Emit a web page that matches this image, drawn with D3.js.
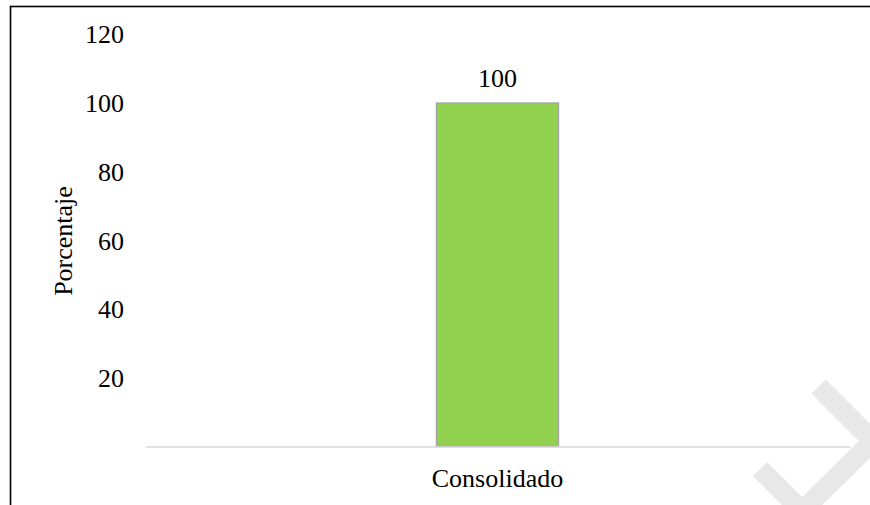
<!DOCTYPE html>
<html>
<head>
<meta charset="utf-8">
<script src="https://cdn.jsdelivr.net/npm/d3@7"></script>
<style>
  html, body { margin: 0; padding: 0; background: #fff; }
  svg { display: block; }
  text { font-family: "Liberation Serif", "Times New Roman", serif; fill: #000; }
</style>
</head>
<body>
<script>
// Chart data
const categories = ["Consolidado"];
const values = [100];
const yTicks = [20, 40, 60, 80, 100, 120];
const yTitle = "Porcentaje";

const W = 870, H = 505;
const plot = { left: 145, right: 850, top: 34.4, bottom: 446.5 };
const FONT = 26;

const svg = d3.select("body").append("svg")
  .attr("width", W).attr("height", H);

// Outer frame (top and left edges visible)
svg.append("rect")
  .attr("x", 10.5).attr("y", 6.5)
  .attr("width", 1000).attr("height", 1000)
  .attr("fill", "none").attr("stroke", "#000").attr("stroke-width", 1.6);

const x = d3.scaleBand()
  .domain(categories)
  .range([plot.left, plot.right])
  .paddingInner(0.705).paddingOuter(0.705);

const y = d3.scaleLinear()
  .domain([0, 120])
  .range([plot.bottom, plot.top]);

// Y axis: labels only
const yAxis = d3.axisLeft(y).tickValues(yTicks).tickSize(0).tickPadding(0);
const gy = svg.append("g")
  .attr("transform", `translate(124,0)`)
  .call(yAxis);
gy.select(".domain").remove();
gy.selectAll("text")
  .attr("font-size", FONT)
  .attr("font-family", "Liberation Serif, serif")
  .attr("fill", "#000")
  .attr("dy", "0.33em");

// Bars
svg.selectAll("rect.bar")
  .data(values)
  .join("rect")
  .attr("class", "bar")
  .attr("x", (d, i) => x(categories[i]))
  .attr("y", d => y(d))
  .attr("width", x.bandwidth())
  .attr("height", d => y(0) - y(d))
  .attr("fill", "#92D050")
  .attr("stroke", "#A6A6A6")
  .attr("stroke-width", 1.5);

// Category axis
const xAxis = d3.axisBottom(x).tickSize(0).tickPadding(0);
const gx = svg.append("g")
  .attr("transform", `translate(0,${y(0)})`)
  .call(xAxis);
gx.select(".domain")
  .attr("stroke", "#D9D9D9").attr("stroke-width", 1.6);
gx.selectAll("text")
  .attr("font-size", FONT)
  .attr("font-family", "Liberation Serif, serif")
  .attr("fill", "#000")
  .attr("dy", null)
  .attr("y", 40);

// Value labels
svg.selectAll("text.value")
  .data(values)
  .join("text")
  .attr("class", "value")
  .attr("x", (d, i) => x(categories[i]) + x.bandwidth() / 2)
  .attr("y", d => y(d) - 16)
  .attr("text-anchor", "middle")
  .attr("font-size", FONT)
  .text(d => d);

// Y axis title
svg.append("text")
  .attr("transform", `translate(72,241) rotate(-90)`)
  .attr("text-anchor", "middle")
  .attr("font-size", FONT)
  .text(yTitle);

// Decorative chevron in the lower right corner
svg.append("path")
  .attr("d", d3.line()([[818.5, 386.5], [873, 441], [802, 511], [760, 469]]))
  .attr("fill", "none")
  .attr("stroke", "#E8E8E8")
  .attr("stroke-width", 20)
  .attr("stroke-linejoin", "miter")
  .attr("stroke-miterlimit", 10);
</script>
</body>
</html>
